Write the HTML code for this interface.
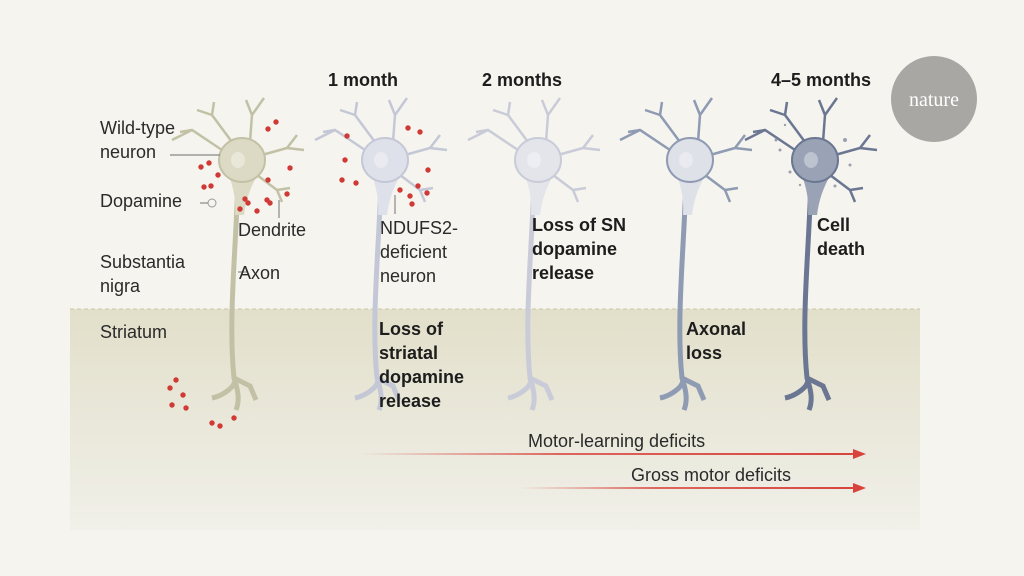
<!DOCTYPE html>
<html><head><meta charset="utf-8"><style>
html,body{margin:0;padding:0;background:#f5f4ee;}
svg{display:block;font-family:"Liberation Sans",sans-serif;}
.l{font-size:18px;fill:#2a2a2a;}
.b{font-size:18px;font-weight:bold;fill:#1d1d1d;}
</style></head><body>
<svg width="1024" height="576" viewBox="0 0 1024 576">
<defs>
<linearGradient id="band" x1="0" y1="0" x2="0" y2="1">
<stop offset="0" stop-color="#e2dfca"/><stop offset="1" stop-color="#f1f0e9"/></linearGradient>
<linearGradient id="ar1" gradientUnits="userSpaceOnUse" x1="360" y1="0" x2="860" y2="0"><stop offset="0" stop-color="#d8443c" stop-opacity="0"/><stop offset="0.4" stop-color="#d8443c" stop-opacity="0.8"/><stop offset="1" stop-color="#d8443c"/></linearGradient>
<linearGradient id="ar2" gradientUnits="userSpaceOnUse" x1="520" y1="0" x2="860" y2="0"><stop offset="0" stop-color="#d8443c" stop-opacity="0"/><stop offset="0.4" stop-color="#d8443c" stop-opacity="0.8"/><stop offset="1" stop-color="#d8443c"/></linearGradient>
<g id="n">
<path d="M-20,-10 L-50,-30 L-62,-28 M-50,-30 L-70,-20 M-10,-18 L-30,-45 L-28,-58 M-30,-45 L-45,-50 M8,-18 L10,-45 L4,-60 M10,-45 L22,-62 M20,-5 L45,-12 L55,-25 M45,-12 L62,-10 M15,15 L35,30 L48,28 M35,30 L40,42" fill="none" stroke-width="2.5"/>
<path d="M-4,20 C-6,90 -14,160 -8,218 C-4,226 -20,236 -30,238 M-8,218 C-4,230 -2,240 -6,250 M-8,218 L8,226 L14,240" fill="none" stroke-width="5"/>
<path d="M-14,12 C-8,30 -6,40 -7,55 L2,55 C4,40 8,28 16,14 Z" stroke="none"/>
<ellipse cx="0" cy="0" rx="23" ry="22"/>
<ellipse cx="-4" cy="0" rx="7" ry="8" fill="#fff" opacity="0.35" stroke="none"/>
</g>
</defs>
<rect x="70" y="309" width="850" height="221" fill="url(#band)"/>
<line x1="70" y1="309" x2="920" y2="309" stroke="#c9c7a8" stroke-dasharray="4,3"/>
<g fill="#dcdac4" stroke="#c3c1a5" stroke-width="2" transform="translate(242,160)"><use href="#n"/></g>
<g fill="#dfe1ea" stroke="#c4c8d6" stroke-width="2" transform="translate(385,160)"><use href="#n"/></g>
<g fill="#e3e5eb" stroke="#c9ccd8" stroke-width="2" transform="translate(538,160)"><use href="#n"/></g>
<g fill="#dfe1e8" stroke="#8f9ab3" stroke-width="2" transform="translate(690,160)"><use href="#n"/></g>
<g fill="#9aa3b6" stroke="#6b7792" stroke-width="2" transform="translate(815,160)"><use href="#n"/></g>
<g fill="#d03a36">
<circle cx="201" cy="167" r="2.7"/><circle cx="209" cy="163" r="2.7"/><circle cx="218" cy="175" r="2.7"/><circle cx="204" cy="187" r="2.7"/><circle cx="211" cy="186" r="2.7"/>
<circle cx="276" cy="122" r="2.7"/><circle cx="268" cy="129" r="2.7"/><circle cx="290" cy="168" r="2.7"/><circle cx="268" cy="180" r="2.7"/><circle cx="287" cy="194" r="2.7"/>
<circle cx="245" cy="199" r="2.7"/><circle cx="248" cy="203" r="2.7"/><circle cx="240" cy="209" r="2.7"/><circle cx="257" cy="211" r="2.7"/><circle cx="267" cy="200" r="2.7"/><circle cx="270" cy="203" r="2.7"/>
<circle cx="176" cy="380" r="2.7"/><circle cx="170" cy="388" r="2.7"/><circle cx="183" cy="395" r="2.7"/><circle cx="172" cy="405" r="2.7"/><circle cx="186" cy="408" r="2.7"/><circle cx="212" cy="423" r="2.7"/><circle cx="220" cy="426" r="2.7"/><circle cx="234" cy="418" r="2.7"/>
<circle cx="408" cy="128" r="2.7"/><circle cx="420" cy="132" r="2.7"/><circle cx="345" cy="160" r="2.7"/><circle cx="342" cy="180" r="2.7"/><circle cx="356" cy="183" r="2.7"/><circle cx="347" cy="136" r="2.7"/><circle cx="428" cy="170" r="2.7"/>
<circle cx="400" cy="190" r="2.7"/><circle cx="410" cy="196" r="2.7"/><circle cx="418" cy="186" r="2.7"/><circle cx="427" cy="193" r="2.7"/><circle cx="412" cy="204" r="2.7"/>
</g>
<circle cx="212" cy="203" r="4" fill="none" stroke="#999"/>
<g fill="#9aa0ad"><circle cx="780" cy="150" r="1.5"/><circle cx="790" cy="172" r="1.5"/><circle cx="845" cy="140" r="2"/><circle cx="776" cy="140" r="1.5"/><circle cx="850" cy="165" r="1.5"/><circle cx="800" cy="185" r="1.2"/><circle cx="835" cy="186" r="1.5"/><circle cx="785" cy="125" r="1.2"/></g>
<g stroke="#888" stroke-width="1.2" fill="none">
<line x1="170" y1="155" x2="220" y2="155"/><line x1="200" y1="203" x2="208" y2="203"/>
<line x1="279" y1="200" x2="279" y2="218"/><line x1="238" y1="272" x2="248" y2="272"/>
<line x1="395" y1="195" x2="395" y2="214"/>
</g>
<text class="l" x="100" y="134">Wild-type</text><text class="l" x="100" y="158">neuron</text>
<text class="l" x="100" y="207">Dopamine</text>
<text class="l" x="238" y="236">Dendrite</text>
<text class="l" x="100" y="268">Substantia</text><text class="l" x="100" y="292">nigra</text>
<text class="l" x="239" y="279">Axon</text>
<text class="l" x="100" y="338">Striatum</text>
<text class="b" x="328" y="86">1 month</text>
<text class="b" x="482" y="86">2 months</text>
<text class="b" x="771" y="86">4–5 months</text>
<text class="l" x="380" y="234">NDUFS2-</text><text class="l" x="380" y="258">deficient</text><text class="l" x="380" y="282">neuron</text>
<text class="b" x="532" y="231">Loss of SN</text><text class="b" x="532" y="255">dopamine</text><text class="b" x="532" y="279">release</text>
<text class="b" x="817" y="231">Cell</text><text class="b" x="817" y="255">death</text>
<text class="b" x="379" y="335">Loss of</text><text class="b" x="379" y="359">striatal</text><text class="b" x="379" y="383">dopamine</text><text class="b" x="379" y="407">release</text>
<text class="b" x="686" y="335">Axonal</text><text class="b" x="686" y="359">loss</text>
<text class="l" x="528" y="447">Motor-learning deficits</text>
<text class="l" x="631" y="481">Gross motor deficits</text>
<rect x="360" y="453" width="495" height="2" fill="url(#ar1)"/>
<polygon points="853,449 866,454 853,459" fill="#d8443c"/>
<rect x="520" y="487" width="335" height="2" fill="url(#ar2)"/>
<polygon points="853,483 866,488 853,493" fill="#d8443c"/>
<circle cx="934" cy="99" r="43" fill="#a8a7a3"/>
<text x="934" y="106" text-anchor="middle" fill="#fff" font-family="Liberation Serif,serif" font-size="20">nature</text>
</svg>
</body></html>
